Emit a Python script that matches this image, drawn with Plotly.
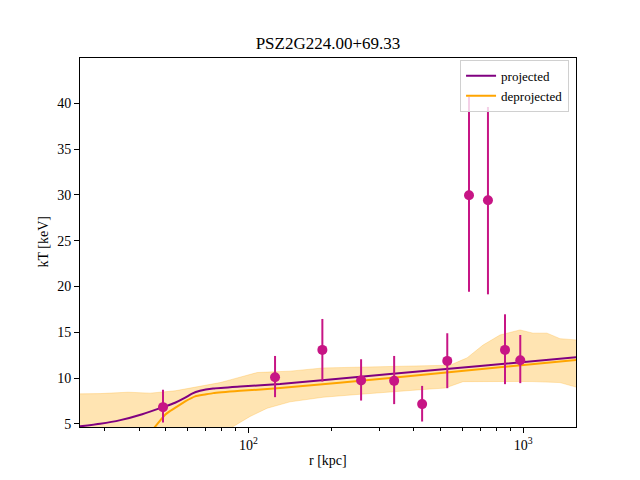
import numpy as np
import plotly.graph_objects as go

# ---------------- data ----------------
title_text = "PSZ2G224.00+69.33"

# projected temperature profile
proj_r = [24.4, 28.9, 34.2, 41.1, 48.9, 54.1, 58.9, 62.4, 66.7, 74.4, 93.3, 130.4, 327.6, 695.9, 1560]
proj_kT = [4.72, 5.0, 5.4, 6.05, 6.82, 7.3, 7.85, 8.3, 8.6, 8.85, 9.07, 9.35, 10.45, 11.3, 12.27]

# deprojected temperature profile
dep_r = [44.7, 49.8, 51.9, 54.1, 58.9, 64.0, 69.6, 74.4, 93.3, 130.4, 327.6, 1560]
dep_kT = [4.3, 6.0, 6.4, 6.75, 7.45, 8.0, 8.2, 8.35, 8.6, 8.9, 10.0, 11.98]

# deprojected uncertainty band
band_hi_r = [24.4, 28.9, 36.5, 43.9, 54.1, 64.0, 78.9, 107.6, 141.8, 186.9, 248.5, 327.6,
             457.9, 541.4, 624.3, 713.8, 822.8, 972.7, 1085, 1220, 1360, 1560]
band_hi = [8.27, 8.3, 8.45, 8.35, 8.6, 9.0, 9.5, 10.6, 10.75, 11.1, 11.2, 11.3,
           11.35, 11.4, 12.2, 13.6, 14.7, 15.25, 14.9, 14.9, 14.3, 14.16]
band_lo_r = [24.4, 85.8, 101.4, 117.0, 141.8, 186.9, 248.5, 327.6, 457.9, 519, 603.5,
             822.8, 1150, 1360, 1560]
band_lo = [2.0, 4.5, 5.8, 6.7, 7.4, 7.9, 8.2, 8.5, 8.8, 8.9, 9.6, 9.65, 9.6, 9.5, 9.0]

# measured points with error bounds
pt_r = [48.9, 125, 185.8, 257, 339, 428.5, 529, 634.6, 743.8, 858, 975]
pt_kT = [6.82, 10.09, 13.07, 9.74, 9.69, 7.15, 11.87, 29.97, 29.42, 13.07, 11.95]
pt_hi = [8.71, 12.41, 16.45, 12.05, 12.41, 9.14, 14.89, 40.7, 39.6, 16.96, 14.70]
pt_lo = [5.14, 7.91, 9.61, 7.54, 7.15, 5.25, 8.89, 19.43, 19.14, 9.33, 9.44]

x_major = [100, 1000]
x_major_text = ["10<sup>2</sup>", "10<sup>3</sup>"]
x_minor = [30, 40, 50, 60, 70, 80, 90, 200, 300, 400, 500, 600, 700, 800, 900]
y_ticks = [5, 10, 15, 20, 25, 30, 35, 40]

x_range = [24.4, 1555]
y_range = [4.651, 44.95]

# ---------------- figure ----------------
FONT = "Liberation Serif"
band_color = "rgba(255,165,0,0.3)"

# common grid for the band so the fill is well defined
band_grid = np.array(sorted(set(band_hi_r) | set(band_lo_r)), dtype=float)
lg = np.log10(band_grid)
band_hi_i = np.interp(lg, np.log10(band_hi_r), band_hi)
band_lo_i = np.interp(lg, np.log10(band_lo_r), band_lo)

fig = go.Figure()
fig.add_trace(go.Scatter(x=band_grid, y=band_lo_i, mode="lines",
                         line=dict(color="rgba(255,165,0,0.25)", width=1),
                         showlegend=False, hoverinfo="skip"))
fig.add_trace(go.Scatter(x=band_grid, y=band_hi_i, mode="lines",
                         line=dict(color="rgba(255,165,0,0.25)", width=1),
                         fill="tonexty", fillcolor=band_color,
                         showlegend=False, hoverinfo="skip"))
fig.add_trace(go.Scatter(x=dep_r, y=dep_kT, mode="lines", name="deprojected",
                         line=dict(color="orange", width=2, shape="spline", smoothing=0.5),
                         legendrank=2))
fig.add_trace(go.Scatter(x=proj_r, y=proj_kT, mode="lines", name="projected",
                         line=dict(color="purple", width=2, shape="spline", smoothing=0.5),
                         legendrank=1))

err_plus = [h - k for h, k in zip(pt_hi, pt_kT)]
err_minus = [k - l for k, l in zip(pt_kT, pt_lo)]
fig.add_trace(go.Scatter(x=pt_r, y=pt_kT, mode="markers",
                         marker=dict(color="mediumvioletred", size=10),
                         error_y=dict(type="data", array=err_plus, arrayminus=err_minus,
                                      color="mediumvioletred", thickness=2, width=0),
                         showlegend=False))

axis_common = dict(showline=True, linecolor="black", linewidth=1.1, mirror=True,
                   ticks="outside", ticklen=5, tickwidth=1.1, tickcolor="black",
                   showgrid=False, zeroline=False,
                   tickfont=dict(family=FONT, size=14, color="black"))

fig.update_xaxes(type="log", range=[np.log10(x_range[0]), np.log10(x_range[1])],
                 tickmode="array", tickvals=x_major, ticktext=x_major_text,
                 minor=dict(tickmode="array", tickvals=x_minor, ticks="outside",
                            ticklen=3, tickwidth=0.9, tickcolor="black", showgrid=False),
                 **axis_common)
fig.update_yaxes(range=y_range, tickmode="array", tickvals=y_ticks, **axis_common)

fig.update_layout(
    width=640, height=480,
    margin=dict(l=80, r=64, t=58, b=53),
    paper_bgcolor="white", plot_bgcolor="white",
    font=dict(family=FONT, size=14, color="black"),
    title=dict(text=title_text, x=0.5, xref="paper", y=1 - 43 / 480, yref="container",
               xanchor="center", yanchor="middle",
               font=dict(family=FONT, size=17, color="black")),
    legend=dict(x=0.986, y=0.995, xanchor="right", yanchor="top",
                bgcolor="rgba(255,255,255,0.8)", bordercolor="#d0d0d0", borderwidth=1,
                font=dict(family=FONT, size=13, color="black"),
                itemwidth=30, tracegroupgap=0, traceorder="normal"),
    annotations=[
        dict(text="r [kpc]", x=0.5, xref="paper", y=-(461 - 427.2) / 369.6, yref="paper",
             showarrow=False, xanchor="center", yanchor="middle",
             font=dict(family=FONT, size=14, color="black")),
        dict(text="kT [keV]", x=-(80 - 43) / 496, xref="paper", y=0.5, yref="paper",
             showarrow=False, xanchor="center", yanchor="middle", textangle=-90,
             font=dict(family=FONT, size=14, color="black")),
    ],
    showlegend=True,
)

fig.write_html("out.html")
